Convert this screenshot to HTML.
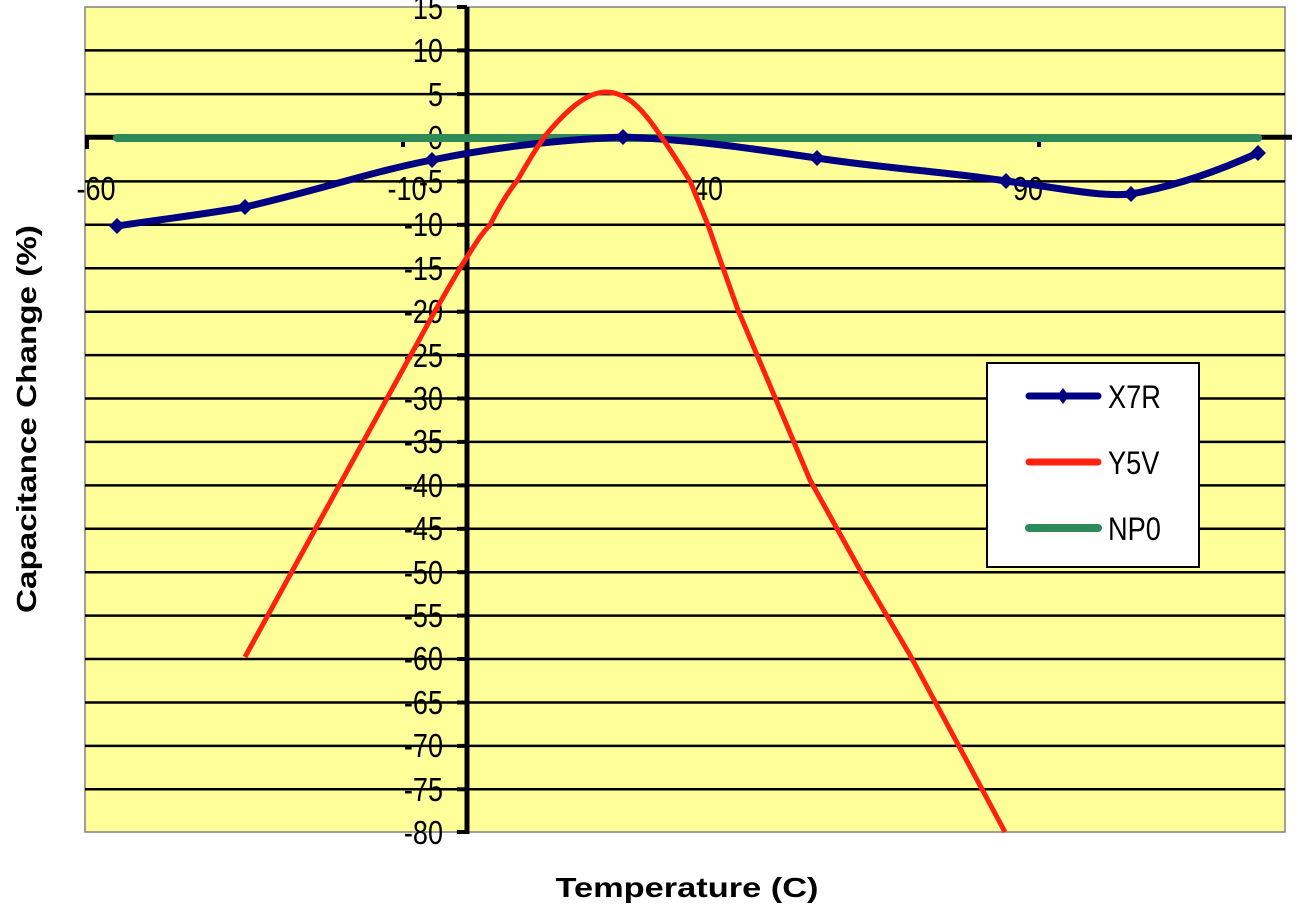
<!DOCTYPE html>
<html><head><meta charset="utf-8"><style>
html,body{margin:0;padding:0;background:#fff}
svg{display:block}
text{font-family:"Liberation Sans",Arial,sans-serif}
</style></head><body>
<svg width="1298" height="912" viewBox="0 0 1298 912" xmlns="http://www.w3.org/2000/svg">
<rect x="85" y="7" width="1200" height="825" fill="#ffff99" stroke="#808080" stroke-width="1.5"/>
<g stroke="#000" stroke-width="2.5">
<line x1="85" x2="1285" y1="50.4" y2="50.4"/>
<line x1="85" x2="1285" y1="94.1" y2="94.1"/>
<line x1="85" x2="1285" y1="181.4" y2="181.4"/>
<line x1="85" x2="1285" y1="224.8" y2="224.8"/>
<line x1="85" x2="1285" y1="268.3" y2="268.3"/>
<line x1="85" x2="1285" y1="311.7" y2="311.7"/>
<line x1="85" x2="1285" y1="355.1" y2="355.1"/>
<line x1="85" x2="1285" y1="398.5" y2="398.5"/>
<line x1="85" x2="1285" y1="441.9" y2="441.9"/>
<line x1="85" x2="1285" y1="485.4" y2="485.4"/>
<line x1="85" x2="1285" y1="528.8" y2="528.8"/>
<line x1="85" x2="1285" y1="572.2" y2="572.2"/>
<line x1="85" x2="1285" y1="615.6" y2="615.6"/>
<line x1="85" x2="1285" y1="659.0" y2="659.0"/>
<line x1="85" x2="1285" y1="702.5" y2="702.5"/>
<line x1="85" x2="1285" y1="745.9" y2="745.9"/>
<line x1="85" x2="1285" y1="789.3" y2="789.3"/>
</g>
<line x1="85" x2="1292" y1="137.3" y2="137.3" stroke="#000" stroke-width="5"/>
<g stroke="#000" stroke-width="4">
<line x1="87" x2="87" y1="137" y2="149"/>
<line x1="403" x2="403" y1="137" y2="147"/>
<line x1="720" x2="720" y1="137" y2="147"/>
<line x1="1039" x2="1039" y1="137" y2="147"/>
</g>
<line x1="467" x2="467" y1="7" y2="834" stroke="#000" stroke-width="5"/>
<g stroke="#000" stroke-width="4">
<line x1="457" x2="467" y1="7" y2="7"/><line x1="457" x2="467" y1="50.4" y2="50.4"/><line x1="457" x2="467" y1="94.1" y2="94.1"/>
<line x1="457" x2="467" y1="181.4" y2="181.4"/><line x1="457" x2="467" y1="224.8" y2="224.8"/><line x1="457" x2="467" y1="268.3" y2="268.3"/>
<line x1="457" x2="467" y1="311.7" y2="311.7"/><line x1="457" x2="467" y1="355.1" y2="355.1"/><line x1="457" x2="467" y1="398.5" y2="398.5"/>
<line x1="457" x2="467" y1="441.9" y2="441.9"/><line x1="457" x2="467" y1="485.4" y2="485.4"/><line x1="457" x2="467" y1="528.8" y2="528.8"/>
<line x1="457" x2="467" y1="572.2" y2="572.2"/><line x1="457" x2="467" y1="615.6" y2="615.6"/><line x1="457" x2="467" y1="659.0" y2="659.0"/>
<line x1="457" x2="467" y1="702.5" y2="702.5"/><line x1="457" x2="467" y1="745.9" y2="745.9"/><line x1="457" x2="467" y1="789.3" y2="789.3"/>
<line x1="457" x2="467" y1="832" y2="832"/>
</g>
<g transform="translate(443,0) scale(0.82,1)" font-size="33" text-anchor="end" fill="#000">
<text x="0" y="19">15</text><text x="0" y="62">10</text><text x="0" y="106">5</text><text x="0" y="149">0</text>
<text x="0" y="193">-5</text><text x="0" y="236">-10</text><text x="0" y="280">-15</text><text x="0" y="323">-20</text>
<text x="0" y="367">-25</text><text x="0" y="410">-30</text><text x="0" y="453">-35</text><text x="0" y="497">-40</text>
<text x="0" y="540">-45</text><text x="0" y="584">-50</text><text x="0" y="627">-55</text><text x="0" y="670">-60</text>
<text x="0" y="714">-65</text><text x="0" y="757">-70</text><text x="0" y="801">-75</text><text x="0" y="844">-80</text>
</g>
<g font-size="33" text-anchor="middle" fill="#000">
<text transform="translate(96,200) scale(0.82,1)">-60</text>
<text transform="translate(407,200) scale(0.82,1)">-10</text>
<text transform="translate(708,200) scale(0.82,1)">40</text>
<text transform="translate(1028,200) scale(0.82,1)">90</text>
</g>
<path d="M117,138 L1258,138" stroke="#2e8b57" stroke-width="8" fill="none" stroke-linecap="round"/>
<path d="M117,226 C170,218 200,215 245,207 C320,190 370,172 432,160 C500,146 560,140 623,137 C700,140 760,150 817,158 C880,168 950,172 1006,181 C1060,188 1100,197 1131,194 C1180,185 1220,170 1258,153" stroke="#000080" stroke-width="7" fill="none" stroke-linecap="round"/>
<g fill="#000080">
<path d="M117,218 l8,8 -8,8 -8,-8z"/><path d="M245,199 l8,8 -8,8 -8,-8z"/><path d="M432,152 l8,8 -8,8 -8,-8z"/>
<path d="M623,129 l8,8 -8,8 -8,-8z"/><path d="M817,150 l8,8 -8,8 -8,-8z"/><path d="M1006,173 l8,8 -8,8 -8,-8z"/>
<path d="M1131,186 l8,8 -8,8 -8,-8z"/><path d="M1258,145 l8,8 -8,8 -8,-8z"/>
</g>
<path d="M245,657 L435,311 L460,268 C475,245 480,235 490,225 C500,205 508,192 517,181 C528,162 535,150 545,136 C565,112 585,93 605,92 C625,92 640,105 660,135 C672,152 682,168 690,181 L708,225 L723,268 L738,310 L810,480 L860,570 L910,655 L1005,832" stroke="#ff2010" stroke-width="5" fill="none" stroke-linejoin="round"/>
<rect x="987" y="363" width="212" height="204" fill="#fff" stroke="#000" stroke-width="2"/>
<line x1="1029" x2="1098" y1="396" y2="396" stroke="#000080" stroke-width="7" stroke-linecap="round"/>
<path d="M1063,388 l6,8 -6,8 -6,-8z" fill="#000080"/>
<line x1="1029" x2="1098" y1="462" y2="462" stroke="#ff2010" stroke-width="7" stroke-linecap="round"/>
<line x1="1029" x2="1098" y1="528" y2="528" stroke="#2e8b57" stroke-width="8" stroke-linecap="round"/>
<g font-size="32" fill="#000">
<text transform="translate(1108,408) scale(0.85,1)">X7R</text>
<text transform="translate(1108,474) scale(0.85,1)">Y5V</text>
<text transform="translate(1108,540) scale(0.85,1)">NP0</text>
</g>
<text x="687" y="897" font-size="28" font-weight="bold" text-anchor="middle" textLength="263" lengthAdjust="spacingAndGlyphs">Temperature (C)</text>
<text transform="translate(36,419) rotate(-90)" font-size="28" font-weight="bold" text-anchor="middle" textLength="388" lengthAdjust="spacingAndGlyphs">Capacitance Change (%)</text>
</svg>
</body></html>
